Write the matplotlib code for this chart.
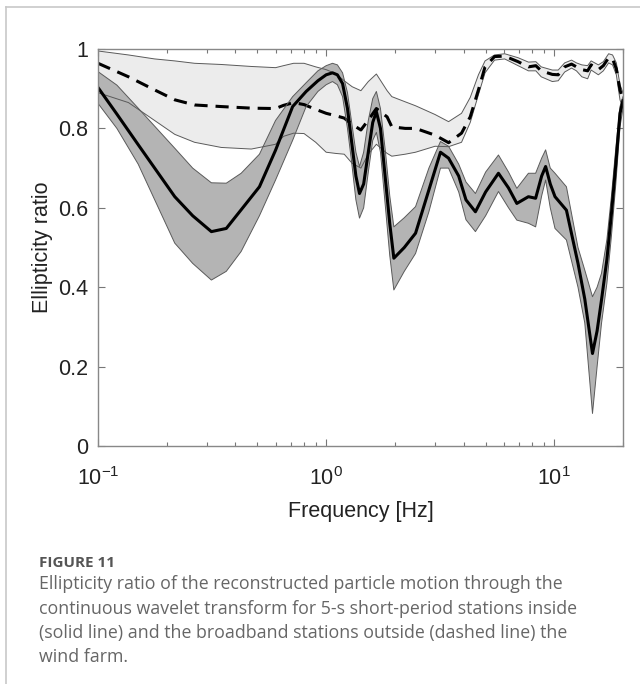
import numpy as np
import matplotlib
matplotlib.use("Agg")
import matplotlib.pyplot as plt
from matplotlib.lines import Line2D

plt.rcParams['font.family'] = ['Liberation Sans', 'DejaVu Sans']
plt.rcParams['mathtext.default'] = 'regular'

# stations inside the wind farm (solid line, dark band)
freq_in = [0.1, 0.121, 0.15, 0.217, 0.26, 0.314, 0.365, 0.424, 0.51, 0.6, 0.713, 0.817,
           0.92, 1.0, 1.066, 1.12, 1.18, 1.24, 1.29, 1.35, 1.40, 1.46, 1.53, 1.60, 1.66,
           1.73, 1.82, 1.90, 1.98, 2.2, 2.465, 2.82, 3.17, 3.44, 3.81, 4.1, 4.51, 5.0,
           5.69, 6.3, 6.85, 7.7, 8.28, 8.8, 9.16, 9.6, 10.07, 11.3, 12.7, 13.6, 14.7,
           15.4, 16.1, 17.0, 17.8, 18.6, 19.4, 20.0]
mean_in = [0.903, 0.836, 0.759, 0.628, 0.58, 0.540, 0.548, 0.595, 0.653, 0.745, 0.855, 0.893,
           0.92, 0.935, 0.940, 0.935, 0.913, 0.85, 0.771, 0.68, 0.636, 0.66, 0.74, 0.815, 0.842,
           0.80, 0.670, 0.56, 0.473, 0.50, 0.536, 0.645, 0.74, 0.725, 0.68, 0.62, 0.590, 0.64,
           0.687, 0.65, 0.611, 0.628, 0.624, 0.68, 0.704, 0.66, 0.628, 0.594, 0.46, 0.37, 0.233,
           0.29, 0.368, 0.47, 0.586, 0.71, 0.838, 0.87]
upper_in = [0.943, 0.909, 0.851, 0.75, 0.70, 0.663, 0.662, 0.687, 0.735, 0.82, 0.880, 0.915,
            0.945, 0.958, 0.964, 0.960, 0.94, 0.89, 0.82, 0.74, 0.704, 0.74, 0.82, 0.875, 0.893,
            0.85, 0.74, 0.63, 0.552, 0.575, 0.603, 0.70, 0.767, 0.755, 0.71, 0.665, 0.636, 0.69,
            0.733, 0.69, 0.649, 0.687, 0.687, 0.725, 0.746, 0.70, 0.687, 0.653, 0.50, 0.443, 0.376,
            0.40, 0.435, 0.52, 0.63, 0.75, 0.855, 0.88]
lower_in = [0.863, 0.80, 0.71, 0.511, 0.46, 0.418, 0.44, 0.49, 0.58, 0.67, 0.77, 0.855,
            0.893, 0.91, 0.918, 0.91, 0.88, 0.80, 0.72, 0.62, 0.574, 0.60, 0.69, 0.77, 0.79,
            0.74, 0.60, 0.48, 0.393, 0.44, 0.485, 0.59, 0.70, 0.70, 0.64, 0.57, 0.540, 0.58,
            0.641, 0.60, 0.569, 0.561, 0.552, 0.63, 0.670, 0.60, 0.548, 0.519, 0.40, 0.31, 0.082,
            0.20, 0.309, 0.41, 0.53, 0.66, 0.804, 0.85]

# broadband stations outside (dashed line, light band)
freq_out = [0.1, 0.136, 0.177, 0.217, 0.265, 0.347, 0.47, 0.6, 0.65, 0.72, 0.8, 0.9, 1.0,
            1.1, 1.2, 1.3, 1.42, 1.53, 1.66, 1.85, 1.94, 2.22, 2.465, 3.0, 3.44, 3.92, 4.28,
            4.65, 4.97, 5.47, 6.06, 6.94, 7.7, 8.3, 8.76, 9.8, 10.4, 11.1, 11.9, 12.5, 13.2,
            14.0, 14.5, 15.6, 16.4, 17.3, 18.0, 18.7, 19.4, 20.0]
mean_out = [0.964, 0.930, 0.897, 0.872, 0.859, 0.855, 0.851, 0.850, 0.858, 0.865, 0.86, 0.848, 0.838,
            0.832, 0.826, 0.81, 0.796, 0.821, 0.85, 0.829, 0.804, 0.800, 0.800, 0.783, 0.764, 0.788, 0.829,
            0.897, 0.955, 0.981, 0.982, 0.968, 0.955, 0.958, 0.945, 0.936, 0.935, 0.955, 0.962, 0.955, 0.948,
            0.945, 0.96, 0.948, 0.958, 0.978, 0.975, 0.95, 0.897, 0.87]
upper_out = [0.995, 0.985, 0.975, 0.97, 0.964, 0.961, 0.956, 0.953, 0.958, 0.964, 0.964, 0.955, 0.948,
             0.938, 0.92, 0.905, 0.895, 0.918, 0.937, 0.895, 0.88, 0.867, 0.857, 0.835, 0.817, 0.838, 0.878,
             0.935, 0.97, 0.985, 0.988, 0.978, 0.967, 0.968, 0.955, 0.947, 0.947, 0.965, 0.972, 0.965, 0.96,
             0.958, 0.97, 0.96, 0.968, 0.988, 0.985, 0.965, 0.91, 0.89]
lower_out = [0.89, 0.865, 0.82, 0.785, 0.765, 0.752, 0.748, 0.76, 0.78, 0.788, 0.787, 0.765, 0.74,
             0.737, 0.735, 0.712, 0.70, 0.735, 0.76, 0.737, 0.73, 0.735, 0.74, 0.755, 0.754, 0.765, 0.815,
             0.885, 0.94, 0.972, 0.975, 0.958, 0.945, 0.945, 0.93, 0.918, 0.92, 0.942, 0.952, 0.945, 0.93,
             0.925, 0.947, 0.935, 0.945, 0.965, 0.96, 0.935, 0.872, 0.85]

y_ticks = [0, 0.2, 0.4, 0.6, 0.8, 1]
y_ticklabels = ['0', '0.2', '0.4', '0.6', '0.8', '1']

fig = plt.figure(figsize=(6.4, 6.84), dpi=100)
ax = fig.add_axes([98/640, 1-446/684, (623-98)/640, (446-49)/684])

edge = '#5a5a5a'
# outside band + dashed
ax.fill_between(freq_out, lower_out, upper_out, facecolor='#ececec', edgecolor='none')
ax.plot(freq_out, upper_out, color=edge, lw=0.7)
ax.plot(freq_out, lower_out, color=edge, lw=0.7)
ax.plot(freq_out, mean_out, color='black', lw=2.2, dashes=(4.3, 2.6))
# inside band + solid
ax.fill_between(freq_in, lower_in, upper_in, facecolor='#b4b4b4', edgecolor='none')
ax.plot(freq_in, upper_in, color=edge, lw=0.7)
ax.plot(freq_in, lower_in, color=edge, lw=0.7)
ax.plot(freq_in, mean_in, color='black', lw=2.2)

ax.set_xscale('log')
ax.set_xlim(0.1, 20)
ax.set_ylim(0, 1)
ax.set_yticks(y_ticks)
ax.set_yticklabels(y_ticklabels)
ax.tick_params(which='both', direction='in', top=True, right=True, colors='#777777',
               labelcolor='#222222', labelsize=15.5, width=0.8)
ax.tick_params(which='major', length=5)
ax.tick_params(which='minor', length=3)
ax.tick_params(axis='y', pad=7)
ax.tick_params(axis='x', pad=15)
for s in ax.spines.values():
    s.set_color('#888888')
    s.set_linewidth(1.0)
ax.set_xlabel('Frequency [Hz]', fontsize=15.5, color='#222222', labelpad=8)
ax.set_ylabel('Ellipticity ratio', fontsize=15.5, color='#222222', labelpad=4)

# page frame
fig.add_artist(Line2D([6/640, 1], [1-7/684, 1-7/684], color='#c8c8c8', lw=1.2))
fig.add_artist(Line2D([6/640, 6/640], [0, 1-7/684], color='#c8c8c8', lw=1.2))

# caption
fig.text(39/640, 1-563/684, 'FIGURE 11', fontsize=11, fontweight='bold', color='#555555',
         family=['Open Sans', 'DejaVu Sans'], va='center')
caption = ['Ellipticity ratio of the reconstructed particle motion through the',
           'continuous wavelet transform for 5-s short-period stations inside',
           '(solid line) and the broadband stations outside (dashed line) the',
           'wind farm.']
for i, line in enumerate(caption):
    fig.text(39/640, 1-(584+24.5*i)/684, line, fontsize=12.8, color='#666666',
             family=['Open Sans', 'DejaVu Sans'], va='center')

fig.savefig('out.png', dpi=100)
